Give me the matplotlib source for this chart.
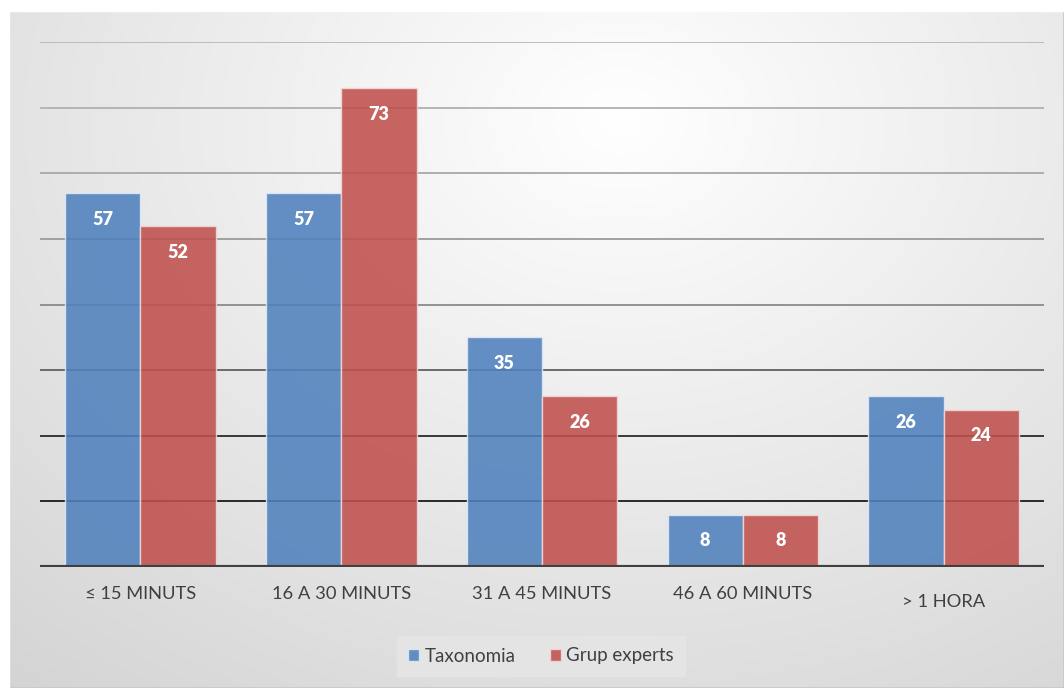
import matplotlib
matplotlib.use("Agg")
import matplotlib.pyplot as plt
import numpy as np
from matplotlib.patches import Rectangle

categories = ["≤ 15 MINUTS", "16 A 30 MINUTS", "31 A 45 MINUTS", "46 A 60 MINUTS", "> 1 HORA"]
taxonomia = [57, 57, 35, 8, 26]
grup_experts = [52, 73, 26, 8, 24]
series_names = ["Taxonomia", "Grup experts"]

plt.rcParams['font.family'] = ['Lato', 'DejaVu Sans']

W, H = 1064, 688
fig = plt.figure(figsize=(W/100, H/100), dpi=100)

# background gradient
bg = fig.add_axes([0, 0, 1, 1], zorder=0)
yy, xx = np.mgrid[0:H, 0:W]
cx, cy = 620, 120
d = np.sqrt(((xx - cx) / 900.0) ** 2 + ((yy - cy) / 700.0) ** 2)
v = 1.0 - 0.16 * np.clip(d, 0, 1.2) / 1.0
img = np.dstack([v, v, v])
bg.imshow(img, extent=[0, W, H, 0], aspect='auto')
bg.add_patch(Rectangle((9, 11), W - 9, H - 11, fill=False, edgecolor='#c8c8c8', lw=1.2))
bg.fill_between([0, W], [0, 0], [11, 11], color='white')
bg.fill_between([0, 9], [0, 0], [H, H], color='white')
bg.set_xlim(0, W)
bg.set_ylim(H, 0)
bg.axis('off')

ax = fig.add_axes([40/W, (H-567)/H, 1004/W, (567-42)/H], zorder=1)
ax.patch.set_alpha(0)
x = np.arange(len(categories))
w = 0.375

# gridlines with color gradient (darker at the bottom)
grid_colors = {10: '#1a1a1a', 20: '#2a2a2a', 30: '#606060', 40: '#8a8a8a', 50: '#9a9a9a',
               60: '#a8a8a8', 70: '#b0b0b0', 80: '#b8b8b8'}
for gv, gc in grid_colors.items():
    ax.axhline(gv, color=gc, lw=1.3, zorder=1)

b1 = ax.bar(x - w/2, taxonomia, w, color='#4f81bd', alpha=0.88, edgecolor='#dfe8f5', lw=1, zorder=2, label=series_names[0])
b2 = ax.bar(x + w/2, grup_experts, w, color='#c0504d', alpha=0.88, edgecolor='#f0d8d8', lw=1, zorder=2, label=series_names[1])

for bars, vals in ((b1, taxonomia), (b2, grup_experts)):
    for rect, val in zip(bars, vals):
        ax.text(rect.get_x() + rect.get_width()/2, val - 4.0, str(val), ha='center', va='center',
                color='white', fontsize=13, fontweight='heavy', zorder=3)

ax.axhline(0, color='#404040', lw=3, zorder=4)
ax.set_xlim(-0.5, len(categories) - 0.5)
ax.set_ylim(0, 80)
ax.set_yticks([])
ax.set_xticks([])
for s in ax.spines.values():
    s.set_visible(False)

for i, c in enumerate(categories):
    off = 0 if i < 4 else -1.2
    ax.text(i, -4.1 + off, c, ha='center', va='center', fontsize=13.2, color='#404040', clip_on=False)

leg = fig.legend(handles=[b1, b2], labels=series_names, loc='center', bbox_to_anchor=(541/W, (H-656)/H),
                 ncol=2, frameon=True, fontsize=13.5, handlelength=0.6, handleheight=0.6, handletextpad=0.3,
                 columnspacing=1.8, borderpad=0.6, borderaxespad=0, fancybox=False)
leg.get_frame().set_facecolor('#e6e6e6')
leg.get_frame().set_edgecolor('#e6e6e6')
for t in leg.get_texts():
    t.set_color('#404040')

fig.savefig("out.png", dpi=100)
